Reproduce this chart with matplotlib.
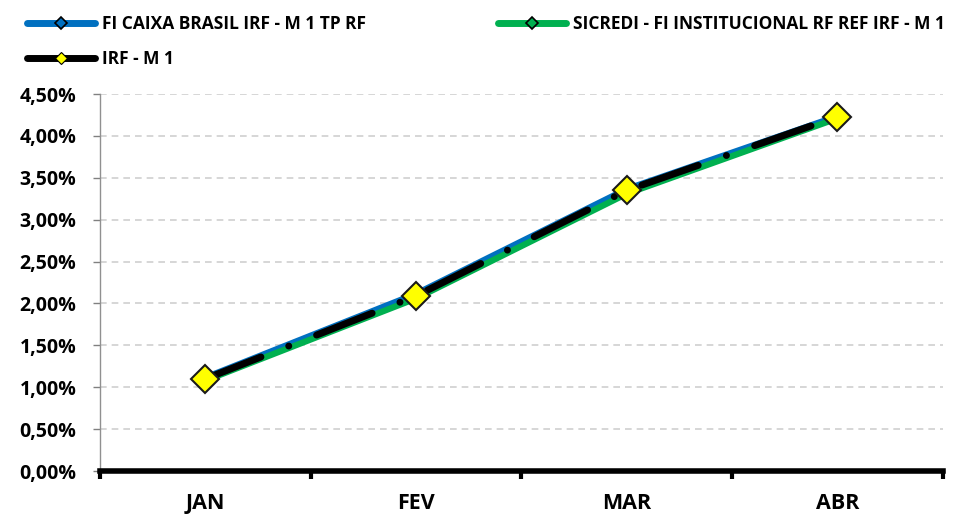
import matplotlib.pyplot as plt
from matplotlib.lines import Line2D
from matplotlib.ticker import FuncFormatter, FixedLocator

plt.rcParams['font.family'] = ['Open Sans', 'DejaVu Sans']
plt.rcParams['font.weight'] = 'bold'

months = ["JAN", "FEV", "MAR", "ABR"]
caixa = [1.12, 2.12, 3.37, 4.24]
sicredi = [1.08, 2.06, 3.31, 4.21]
irf_m1 = [1.10, 2.09, 3.35, 4.23]

BLUE = "#0070C0"
GREEN = "#00B050"
YELLOW = "#FFFF00"

fig = plt.figure(figsize=(9.71, 5.16), dpi=100)
ax = fig.add_axes([0.103, 0.0872, 0.868, 0.7306])

x = list(range(len(months)))

ax.plot(x, caixa, color=BLUE, lw=4, solid_capstyle="round", zorder=3)
ax.plot(x, sicredi, color=GREEN, lw=4.5, solid_capstyle="round", zorder=4)
ax.plot(x, irf_m1, color="black", lw=5, linestyle=(0, (8.6, 4.3, 0.01, 4.3)),
        dash_capstyle="round", zorder=5)
ax.plot(x, irf_m1, linestyle="none", marker="D", markersize=14,
        markerfacecolor=YELLOW, markeredgecolor="#1a1a1a", markeredgewidth=1.5, zorder=6)

ax.set_ylim(0, 4.5)
ax.set_xlim(-0.5, 3.5)
ax.set_yticks([i * 0.5 for i in range(10)])
ax.yaxis.set_major_formatter(FuncFormatter(lambda v, p: f"{v:.2f}%".replace(".", ",")))
ax.grid(axis="y", color="#d0d0d0", linestyle=(0, (4, 3)), linewidth=1.2, zorder=0)

ax.set_xticks(x)
ax.set_xticklabels(months, fontweight="bold")
for t in ax.get_yticklabels():
    t.set_fontweight("bold")
ax.xaxis.set_minor_locator(FixedLocator([-0.5, 0.5, 1.5, 2.5, 3.5]))
ax.tick_params(axis="x", which="major", length=0, pad=16, labelsize=15.5)
ax.tick_params(axis="x", which="minor", length=6, width=3, color="black", direction="out")
ax.tick_params(axis="y", length=5, width=1, color="#808080", labelsize=14, pad=12)

for s in ["top", "right"]:
    ax.spines[s].set_visible(False)
ax.spines["left"].set_color("#909090")
ax.spines["left"].set_linewidth(1)
ax.spines["bottom"].set_color("black")
ax.spines["bottom"].set_linewidth(4)
ax.spines["bottom"].set_zorder(7)

handles = [
    Line2D([], [], color=BLUE, lw=5, solid_capstyle="round", marker="D", markersize=6,
           markerfacecolor=BLUE, markeredgecolor="black", markeredgewidth=1.2),
    Line2D([], [], color="black", lw=5, solid_capstyle="round", marker="D", markersize=6,
           markerfacecolor=YELLOW, markeredgecolor="black", markeredgewidth=0.8),
    Line2D([], [], color=GREEN, lw=5, solid_capstyle="round", marker="D", markersize=6,
           markerfacecolor=GREEN, markeredgecolor="black", markeredgewidth=1.2),
]
labels = ["FI CAIXA BRASIL IRF - M 1 TP RF", "IRF - M 1",
          "SICREDI - FI INSTITUCIONAL RF REF IRF - M 1"]
leg = fig.legend(handles, labels, ncol=2, loc="upper left", bbox_to_anchor=(0.021, 0.985),
                 frameon=False, prop={"size": 12.5, "weight": "bold"},
                 handlelength=3.9, handletextpad=0.4,
                 columnspacing=7.6, labelspacing=1.0, borderaxespad=0)

fig.savefig("out.png", dpi=100)
